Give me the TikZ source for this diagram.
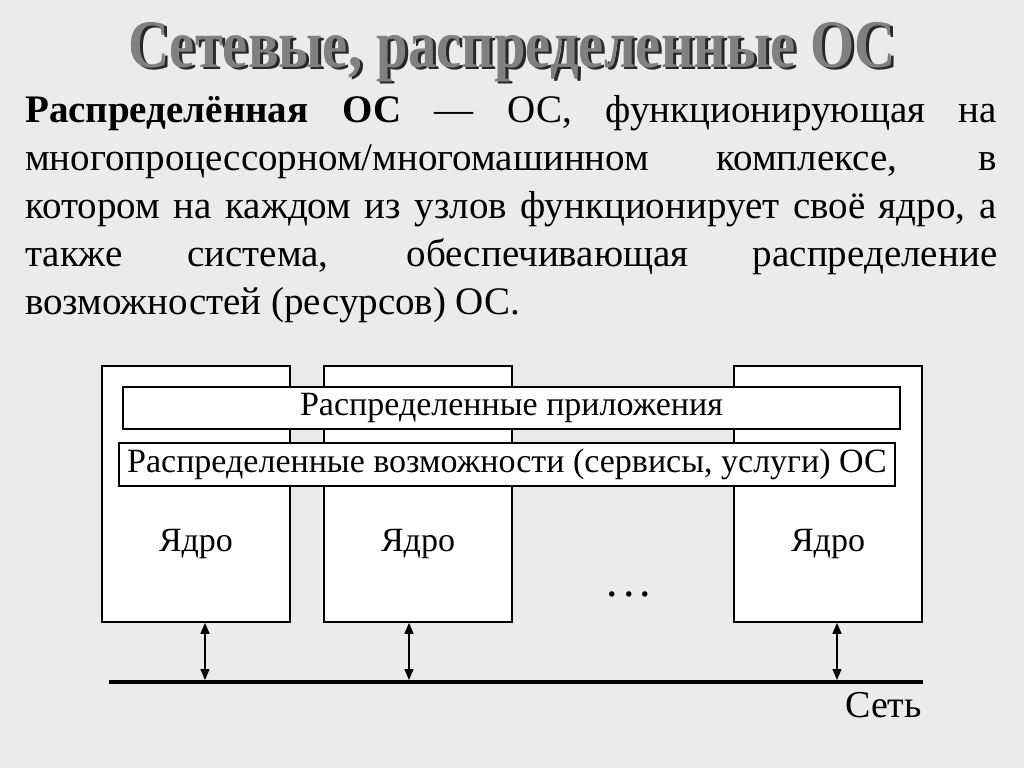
\documentclass[tikz,border=0pt]{standalone}
\usepackage{fontspec}
\setmainfont{Liberation Serif}
\usepackage{graphicx}
\usepackage{xcolor}
\usetikzlibrary{arrows.meta,positioning,calc}
\definecolor{slidebg}{RGB}{235,235,235}
\definecolor{titlegray}{RGB}{128,128,128}
\definecolor{titleshadow}{RGB}{40,40,40}
\begin{document}
\begin{tikzpicture}[
    x=1pt, y=-1pt,
    titletext/.style={
        font=\fontsize{68}{70}\selectfont\bfseries,
        inner sep=0pt,
        anchor=base
    },
    node/.style={
        rectangle,
        draw=black,
        fill=white,
        line width=1.5pt,
        minimum width=188pt,
        minimum height=256pt,
        inner sep=0pt
    },
    layer/.style={
        rectangle,
        draw=black,
        fill=white,
        line width=1.5pt,
        inner sep=0pt,
        font=\fontsize{34}{40}\selectfont
    },
    label/.style={
        font=\fontsize{34}{40}\selectfont,
        inner sep=0pt,
        anchor=base
    },
    arrow/.style={
        {Triangle[width=9pt,length=11pt]}-{Triangle[width=9pt,length=11pt]},
        line width=1.3pt
    }
]
% Фон
\fill[slidebg] (0,0) rectangle (1024,768);
\useasboundingbox (0,0) rectangle (1024,768);

% Заголовок с тенью
\node[titletext, text=titleshadow] (title-shadow) at (515,70) {\scalebox{0.834}[1]{Сетевые, распределенные ОС}};
\node[titletext, text=titlegray] (title) at (512,67) {\scalebox{0.834}[1]{Сетевые, распределенные ОС}};

% Определение
\node[anchor=base west, inner sep=0pt, text width=972pt, align=justify,
      font=\fontsize{39}{48}\selectfont] (definition) at (25,122) {%
    \textbf{Распределённая ОС} — ОС, функционирующая на\linebreak
    многопроцессорном/многомашинном комплексе, в\linebreak
    котором на каждом из узлов функционирует своё ядро, а\linebreak
    также система, обеспечивающая распределение\linebreak
    возможностей (ресурсов) ОС.};

% Узлы
\node[node] (host1) at (196,494) {};
\node[node] (host2) at (418,494) {};
\node[node] (host3) at (828,494) {};

% Общие слои
\node[layer, minimum width=777pt, minimum height=42pt] (apps) at (511.5,408) {Распределенные приложения};
\node[layer, minimum width=776pt, minimum height=43pt] (services) at (507,464.5) {Распределенные возможности (сервисы, услуги) ОС};

% Ядра
\node[label] (core1) at (196,551) {Ядро};
\node[label] (core2) at (418,551) {Ядро};
\node[label] (core3) at (828,551) {Ядро};
\node[label, font=\fontsize{46}{50}\selectfont] (dots) at (629,596) {.\hspace{5pt}.\hspace{5pt}.};

% Сеть
\coordinate (net-left) at (109,682);
\coordinate (net-right) at (923,682);
\draw[line width=4pt] (net-left) -- (net-right);
\node[label, anchor=base east, font=\fontsize{38}{44}\selectfont] (net) at (922,717) {Сеть};

\coordinate (tap1) at (205,682);
\coordinate (tap2) at (409,682);
\coordinate (tap3) at (837,682);
\draw[arrow, shorten >=2pt] (tap1 |- host1.south) -- (tap1);
\draw[arrow, shorten >=2pt] (tap2 |- host2.south) -- (tap2);
\draw[arrow, shorten >=2pt] (tap3 |- host3.south) -- (tap3);

\end{tikzpicture}
\end{document}
